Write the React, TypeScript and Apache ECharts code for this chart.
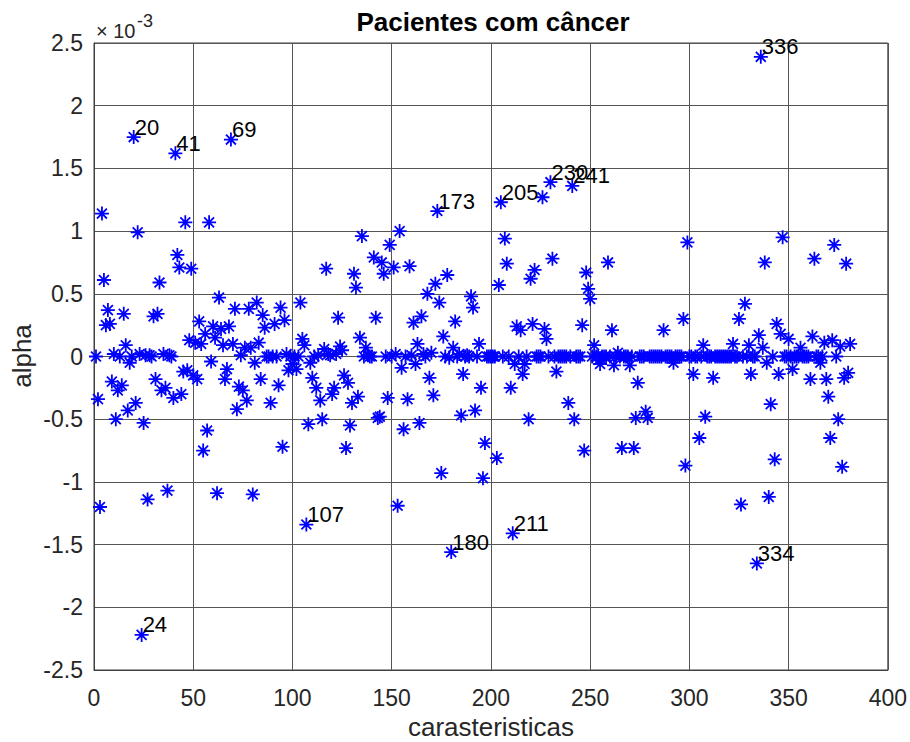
import React, { useEffect, useRef } from "react";
import * as echarts from "echarts";

// alpha values (in units of 1e-3) for caracteristica index 1..381
const alphaValues: number[] = [
  0, -0.34, -1.2, 1.14, 0.61, 0.25, 0.37, 0.26, -0.2, 0.02,
  -0.5, -0.27, 0, -0.23, 0.34, 0.09, -0.43, -0.05, 0, 1.75,
  -0.37, 0.99, 0.02, -2.22, -0.53, 0.01, -1.14, 0.01, 0, 0.32,
  -0.18, 0.34, 0.59, -0.27, 0.02, -0.25, -1.07, 0.01, 0, -0.33,
  1.62, 0.81, 0.71, -0.3, -0.12, 1.07, -0.11, 0.13, 0.7, -0.15,
  0.11, -0.18, 0.28, 0.1, -0.75, 0.18, -0.59, 1.07, -0.04, 0.24,
  0.15, -1.09, 0.47, 0.22, 0.09, -0.18, -0.1, 0.24, 1.73, 0.1,
  0.38, -0.42, -0.24, 0.01, -0.27, 0.07, -0.35, 0.38, 0.07, -1.1,
  -0.05, 0.43, 0.11, -0.18, 0.33, 0.23, 0, 0, -0.37, 0,
  0.26, 0, -0.23, 0.39, -0.72, 0.29, 0.02, -0.11, 0, -0.06,
  0, -0.1, 0, 0.43, 0.14, 0.09, -1.34, -0.54, -0.05, -0.17,
  0, -0.25, 0.01, -0.35, -0.5, 0.06, 0.7, 0.02, 0.01, -0.3,
  -0.25, 0.02, 0.31, 0.08, 0.05, -0.15, -0.73, -0.21, -0.55, -0.37,
  0.66, 0.55, -0.32, 0.15, 0.96, 0, 0.07, 0.01, 0, 0,
  0.79, 0.31, -0.49, -0.48, 0.75, 0.66, 0, -0.33, 0.89, 0,
  0.71, 0.02, -1.19, 1.0, -0.09, -0.58, 0, -0.34, 0.72, 0.01,
  0.27, -0.06, 0.1, -0.53, 0.32, 0.02, 0, 0.5, -0.17, 0.03,
  -0.31, 0.58, 1.16, 0.43, -0.93, 0.16, 0, 0.65, -0.01, -1.56,
  0.07, 0.28, 0, 0.02, -0.47, -0.14, 0, 0.01, 0, 0.48,
  0.39, -0.43, 0, 0.1, -0.25, -0.97, -0.69, 0, 0, 0,
  0, 0, -0.81, 0.57, 1.23, 0, 0.94, 0.74, 0, -0.25,
  -1.41, -0.06, 0.24, 0, 0.21, -0.14, -0.06, 0, -0.5, 0.62,
  0.26, 0.69, 0, 0, 0, 1.27, 0.22, 0.14, 0, 1.39,
  0.78, 0, -0.12, 0, 0, 0, 0, 0, -0.37, 0,
  1.36, -0.5, 0, 0, 0, 0.25, -0.75, 0.67, 0.54, 0.46,
  0, 0.09, 0, 0, -0.06, 0, 0, 0, 0.75, 0,
  0.21, -0.07, 0, 0.03, 0, -0.73, 0, 0, 0, -0.07,
  0, -0.73, -0.49, -0.21, 0, 0, 0, -0.44, -0.49, 0,
  0, 0, 0, 0, 0, 0, 0.21, 0, 0, 0,
  0, -0.05, 0, 0, 0, 0, 0.3, -0.87, 0.91, 0,
  0, -0.14, 0, 0, -0.65, 0, 0.09, -0.48, 0, 0,
  0, -0.17, 0, 0, 0, 0, 0, 0, 0, 0,
  0, 0.1, 0, 0, 0.3, -1.18, 0, 0.42, 0, 0.09,
  -0.14, 0, 0, -1.65, 0.17, 2.39, 0.07, 0.75, -0.05, -1.12,
  -0.38, 0, -0.82, 0.26, -0.14, 0.18, 0.95, 0, 0, 0.14,
  0, -0.1, 0, 0, 0, 0.07, 0, 0, 0, 0,
  -0.18, 0.16, 0.78, 0, 0, -0.05, 0, 0.11, -0.18, -0.32,
  -0.65, 0.13, 0.89, 0, -0.5, 0.08, -0.88, -0.17, 0.74, -0.13,
  0.1,
];

const labeledIndices: number[] = [20, 24, 41, 69, 107, 173, 180, 205, 211, 230, 241, 334, 336];

const xTicks = { min: 0, max: 400, interval: 50 };
const yTicks = { min: -2.5, max: 2.5, interval: 0.5 };

const FONT = "'Liberation Sans', Arial, Helvetica, sans-serif";
const ASTERISK =
  "path://M0,-10L0,10M-10,0L10,0M-7.07,-7.07L7.07,7.07M-7.07,7.07L7.07,-7.07";

export default function App() {
  const ref = useRef<HTMLDivElement>(null);

  useEffect(() => {
    if (!ref.current) return;
    const chart = echarts.init(ref.current, null, { renderer: "svg" });

    const data = alphaValues.map((v, i) => {
      const idx = i + 1;
      if (labeledIndices.includes(idx)) {
        return {
          value: [idx, v],
          label: {
            show: true,
            position: "inside",
            align: "left",
            verticalAlign: "middle",
            offset: [1, -10],
            formatter: String(idx),
            fontSize: 22,
            color: "#000000",
            fontFamily: FONT,
          },
        };
      }
      return { value: [idx, v] };
    });

    const axisCommon = {
      type: "value",
      axisLine: { show: true, onZero: false, lineStyle: { color: "#404040", width: 1 } },
      axisTick: { show: false },
      splitLine: { show: true, lineStyle: { color: "#555555", width: 1 } },
    };

    chart.setOption({
      animation: false,
      backgroundColor: "#ffffff",
      grid: {
        left: 94,
        top: 43,
        width: 794,
        height: 627,
        show: true,
        borderColor: "#404040",
        borderWidth: 1,
        backgroundColor: "#ffffff",
      },
      xAxis: {
        ...axisCommon,
        min: xTicks.min,
        max: xTicks.max,
        interval: xTicks.interval,
        axisLabel: { fontSize: 23, color: "#262626", margin: 16, fontFamily: FONT },
      },
      yAxis: {
        ...axisCommon,
        min: yTicks.min,
        max: yTicks.max,
        interval: yTicks.interval,
        axisLabel: { fontSize: 23, color: "#262626", margin: 11, fontFamily: FONT },
      },
      series: [
        {
          type: "scatter",
          data,
          symbol: ASTERISK,
          symbolSize: 14,
          itemStyle: { color: "#0000ff", borderColor: "#0000ff", borderWidth: 1.8, opacity: 1 },
          emphasis: { disabled: true },
        },
      ],
      graphic: [
        {
          type: "text",
          x: 493,
          y: 22,
          style: {
            text: "Pacientes com câncer",
            fontSize: 26,
            fontWeight: "bold",
            fontFamily: FONT,
            fill: "#000000",
            align: "center",
            verticalAlign: "middle",
          },
        },
        {
          type: "text",
          x: 491,
          y: 727,
          style: {
            text: "carasteristicas",
            fontSize: 26,
            fontFamily: FONT,
            fill: "#262626",
            align: "center",
            verticalAlign: "middle",
          },
        },
        {
          type: "text",
          x: 22,
          y: 356,
          rotation: Math.PI / 2,
          style: {
            text: "alpha",
            fontSize: 26,
            fontFamily: FONT,
            fill: "#262626",
            align: "center",
            verticalAlign: "middle",
          },
        },
        {
          type: "text",
          x: 96,
          y: 31,
          style: {
            text: "× 10",
            fontSize: 20,
            fontFamily: FONT,
            fill: "#262626",
            align: "left",
            verticalAlign: "middle",
          },
        },
        {
          type: "text",
          x: 137,
          y: 21,
          style: {
            text: "-3",
            fontSize: 18,
            fontFamily: FONT,
            fill: "#262626",
            align: "left",
            verticalAlign: "middle",
          },
        },
      ],
    });

    return () => chart.dispose();
  }, []);

  return (
    <div
      ref={ref}
      style={{ position: "fixed", left: 0, top: 0, width: 910, height: 742, background: "#ffffff" }}
    />
  );
}
